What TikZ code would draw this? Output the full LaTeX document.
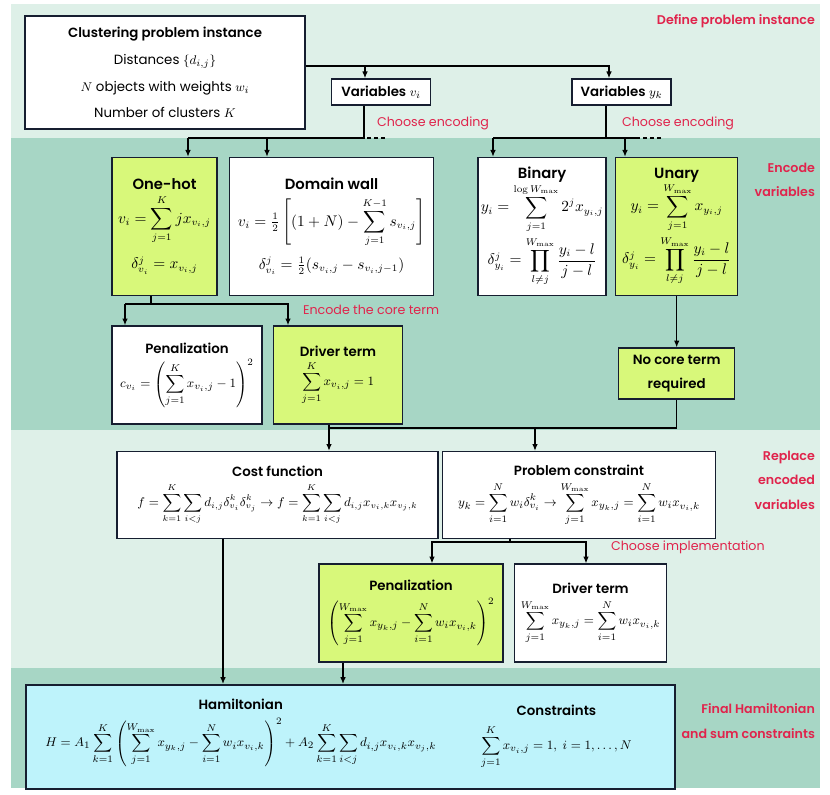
\documentclass[tikz,border=0pt]{standalone}
\usepackage{amsmath}
\usepackage[no-math]{fontspec}
\IfFontExistsTF{Poppins SemiBold}
    {\setmainfont{Poppins}[BoldFont={Poppins SemiBold}]}
    {\setmainfont{Poppins}}
\usepackage{xcolor}
\usetikzlibrary{arrows.meta,positioning,calc}

\definecolor{bandlight}{RGB}{222,240,232}
\definecolor{banddark}{RGB}{167,214,197}
\definecolor{hotgreen}{RGB}{216,248,122}
\definecolor{hamcyan}{RGB}{190,243,251}
\definecolor{boxline}{RGB}{22,30,48}
\definecolor{stagered}{RGB}{224,36,76}

\begin{document}
\begin{tikzpicture}[
        x=0.25mm, y=-0.25mm,
        font=\fontsize{9.5}{11.5}\selectfont,
        every node/.style={align=center, inner sep=2pt},
        box/.style  ={draw=boxline, line width=1.1pt, fill=white},
        hot/.style  ={box, fill=hotgreen},
        big/.style  ={font=\fontsize{10.5}{12.5}\selectfont},
        stage/.style={font=\fontsize{9}{17.5}\selectfont\bfseries, text=stagered, align=right, anchor=east},
        hint/.style ={font=\fontsize{9}{11}\selectfont, text=stagered, anchor=west},
        flow/.style ={-{Latex[length=1.7mm,width=1.4mm]}, line width=0.9pt},
        link/.style ={line width=0.9pt},
        more/.style ={line width=0.9pt, dash pattern=on 2.8pt off 2.1pt},
    ]
        % --- Bandas de fondo ---
        \fill[white] (0,0) rectangle (830,794);
        \useasboundingbox (0,0) rectangle (830,794);
        \fill[bandlight] (11,4) rectangle (820,138);
        \fill[banddark]  (11,138) rectangle (820,430);
        \fill[bandlight] (11,430) rectangle (820,668);
        \fill[banddark]  (11,668) rectangle (820,788);

        % --- Instancia ---
        \node[box, minimum width=70mm, minimum height=28.25mm, font=\fontsize{9.5}{19}\selectfont] (inst) at (165,72.5)
            {\textbf{Clustering problem instance}\\ Distances $\{d_{i,j}\}$\\ $N$ objects with weights $w_i$\\ Number of clusters $K$};
        \node[box, minimum width=24.75mm, minimum height=6.5mm, below right=15.75mm and 6.25mm of inst.north east] (varv) {\textbf{Variables} $v_i$};
        \node[box, minimum width=24.75mm, minimum height=6.5mm, right=35mm of varv] (vary) {\textbf{Variables} $y_k$};

        % --- Codificaciones ---
        \node[hot, big, minimum width=26.25mm, minimum height=34.5mm, below right=6.75mm and 21.75mm of inst.south west] (onehot)
            {\textbf{One-hot}\\[3pt] $v_i = \displaystyle\sum_{j=1}^{K} j x_{v_i,j}$\\[8pt] $\delta^j_{v_i} = x_{v_i,j}$};
        \node[box, big, minimum width=51mm, minimum height=34.5mm, right=2.75mm of onehot] (dwall)
            {\textbf{Domain wall}\\[5pt] $v_i = \frac{1}{2}\left[(1+N) - \displaystyle\sum_{j=1}^{K-1} s_{v_i,j}\right]$\\[6pt]
             $\delta^j_{v_i} = \frac{1}{2}(s_{v_i,j} - s_{v_i,j-1})$};
        \node[box, big, minimum width=30.25mm, minimum height=34.5mm, right=10.75mm of dwall] (binary)
            {\textbf{Binary}\\ $y_i = \displaystyle\sum_{j=1}^{\log W_{\max}} 2^j x_{y_i,j}$\\[2pt]
             $\delta^j_{y_i} = \displaystyle\prod_{l\neq j}^{W_{\max}} \frac{y_i - l}{j - l}$};
        \node[hot, big, minimum width=30.5mm, minimum height=34.5mm, right=2mm of binary] (unary)
            {\textbf{Unary}\\ $y_i = \displaystyle\sum_{j=1}^{W_{\max}} x_{y_i,j}$\\[2pt]
             $\delta^j_{y_i} = \displaystyle\prod_{l\neq j}^{W_{\max}} \frac{y_i - l}{j - l}$};

        % --- Termino central ---
        \node[box, minimum width=37.5mm, minimum height=24.5mm, below=7.25mm of onehot.south west, anchor=north west] (pen1)
            {\textbf{Penalization}\\[3pt] $c_{v_i} = \left(\displaystyle\sum_{j=1}^{K} x_{v_i,j} - 1\right)^2$};
        \node[hot, minimum width=32.25mm, minimum height=24.5mm, right=2.5mm of pen1] (drv1)
            {\textbf{Driver term}\\[3pt] $\displaystyle\sum_{j=1}^{K} x_{v_i,j} = 1$};
        \node[hot, minimum width=29mm, minimum height=12.75mm, below=12.75mm of unary, font=\fontsize{9.5}{17}\selectfont\bfseries] (nocore)
            {No core term\\ required};

        % --- Reemplazo ---
        \node[box, minimum width=80.25mm, minimum height=21.75mm, below right=6.5mm and 1.25mm of pen1.south west, font=\fontsize{9}{11}\selectfont] (cost)
            {\textbf{\fontsize{9.5}{11}\selectfont Cost function}\\[4pt] $f = \displaystyle\sum_{k=1}^{K}\sum_{i<j} d_{i,j}\delta^k_{v_i}\delta^k_{v_j} \to f = \sum_{k=1}^{K}\sum_{i<j} d_{i,j}x_{v_i,k}x_{v_j,k}$};
        \node[box, minimum width=68.25mm, minimum height=21.75mm, right=0.75mm of cost] (pcons)
            {\textbf{Problem constraint}\\[4pt] $y_k = \displaystyle\sum_{i=1}^{N} w_i\delta^k_{v_i} \to \sum_{j=1}^{W_{\max}} x_{y_k,j} = \sum_{i=1}^{N} w_i x_{v_i,k}$};
        \node[hot, minimum width=46mm, minimum height=24.5mm, below right=6mm and 50.5mm of cost.south west] (pen2)
            {\textbf{Penalization}\\[4pt] $\left(\displaystyle\sum_{j=1}^{W_{\max}} x_{y_k,j} - \sum_{i=1}^{N} w_i x_{v_i,k}\right)^2$};
        \node[box, minimum width=38mm, minimum height=24.5mm, right=2.5mm of pen2] (drv2)
            {\textbf{Driver term}\\[4pt] $\displaystyle\sum_{j=1}^{W_{\max}} x_{y_k,j} = \sum_{i=1}^{N} w_i x_{v_i,k}$};

        % --- Hamiltoniano final ---
        \node[box, fill=hamcyan, minimum width=162.25mm, minimum height=26mm, below=5.25mm of pen2.south west, anchor=north west, xshift=-73.25mm] (hamil) {};
        \node[right=4.25mm of hamil.west, yshift=1mm] (hamH)
            {\textbf{Hamiltonian}\\[5pt] $H = A_1\displaystyle\sum_{k=1}^{K}\left(\sum_{j=1}^{W_{\max}} x_{y_k,j} - \sum_{i=1}^{N} w_i x_{v_i,k}\right)^2 + A_2\sum_{k=1}^{K}\sum_{i<j} d_{i,j}x_{v_i,k}x_{v_j,k}$};
        \node[left=10.25mm of hamil.east] (conH)
            {\textbf{Constraints}\\[6pt] $\displaystyle\sum_{j=1}^{K} x_{v_i,j} = 1,\ i = 1,\dots,N$};

        % --- Etiquetas de etapa ---
        \node[stage] (stdef) at (818,21) {Define problem instance};
        \node[stage] (stenc) at (818,180) {Encode\\variables};
        \node[stage] (strep) at (818,480) {Replace\\encoded\\variables};
        \node[stage] (stfin) at (818,721) {Final Hamiltonian\\and sum constraints};
        \node[hint] (hnt1) at (374,123) {Choose encoding};
        \node[hint] (hnt2) at (619,123) {Choose encoding};
        \node[hint] (hnt3) at (300,310) {Encode the core term};
        \node[hint] (hnt4) at (608,547) {Choose implementation};

        % --- Puntos de union ---
        \coordinate (sp1) at (365,66);
        \coordinate (sp2) at (609,66);
        \coordinate (ev1) at (364,138);
        \coordinate (ev2) at (188,138);
        \coordinate (ev3) at (267,138);
        \coordinate (ey1) at (606,138);
        \coordinate (ey2) at (493,138);
        \coordinate (ey3) at (625,138);
        \coordinate (ey4) at (640,138);
        \coordinate (ec1) at (151,304);
        \coordinate (ec2) at (125,304);
        \coordinate (ec3) at (288,304);
        \coordinate (rc1) at (329,428);
        \coordinate (rc2) at (535,428);
        \coordinate (ri1) at (510,542);
        \coordinate (ri2) at (432,542);
        \coordinate (ri3) at (586,542);
        \coordinate (fh1) at (223,677);
        \coordinate (fh2) at (343,677);

        % --- Flechas ---
        \draw[flow] (inst.east |- sp2) -| (vary.north -| sp2);
        \draw[flow] (sp1) -- (varv.north -| sp1);
        \draw[link] (varv.south -| ev1) -- (ev1) -- (ev2);
        \draw[more] ([xshift=0.75mm]ev1) -- ++(19,0);
        \draw[flow] (ev2) -- (onehot.north -| ev2);
        \draw[flow] (ev3) -- (dwall.north -| ev3);
        \draw[link] (vary.south -| ey1) -- (ey1);
        \draw[link] (ey2) -- (ey4);
        \draw[more] ([xshift=0.75mm]ey4) -- ++(19,0);
        \draw[flow] (ey2) -- (binary.north -| ey2);
        \draw[flow] (ey3) -- (unary.north -| ey3);
        \draw[link] (onehot.south -| ec1) -- (ec1);
        \draw[flow] (ec2) -- (pen1.north -| ec2);
        \draw[flow] (ec2) -- (ec3) -- (drv1.north -| ec3);
        \draw[flow] (unary.south -| nocore) -- (nocore);
        \draw[link] (nocore.south) |- (rc1);
        \draw[flow] (drv1.south -| rc1) -- (cost.north -| rc1);
        \draw[flow] (rc2) -- (pcons.north -| rc2);
        \draw[link] (pcons.south -| ri1) -- (ri1);
        \draw[flow] (ri1) -| (pen2.north -| ri2);
        \draw[flow] (ri1) -| (drv2.north -| ri3);
        \draw[flow] (cost.south -| fh1) -- (hamil.north -| fh1);
        \draw[flow] (pen2.south -| fh2) -- (hamil.north -| fh2);
    \end{tikzpicture}
\end{document}
